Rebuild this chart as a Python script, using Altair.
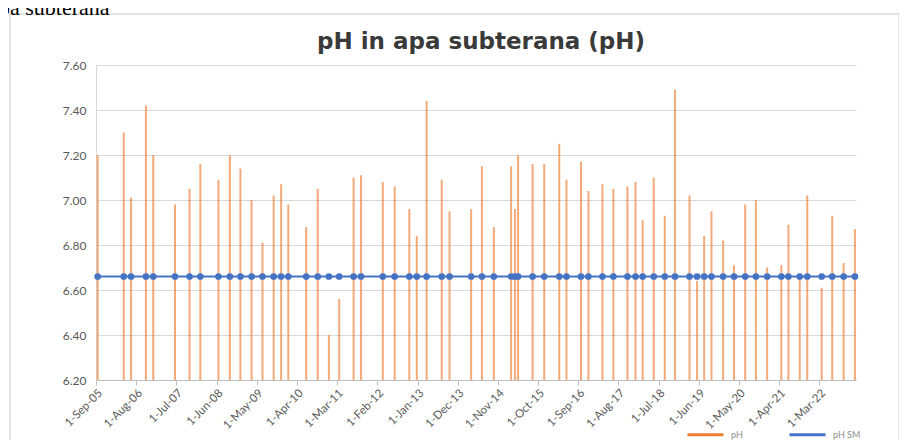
import altair as alt
import pandas as pd

# ---- data ----
dates = [
    "2005-09-15", "2006-04-20", "2006-06-20", "2006-10-22", "2006-12-22",
    "2007-06-21", "2007-10-20", "2008-01-18", "2008-06-17", "2008-09-20",
    "2008-12-17", "2009-03-20", "2009-06-19", "2009-09-20", "2009-11-21",
    "2010-01-20", "2010-06-18", "2010-09-22", "2010-12-24", "2011-03-20",
    "2011-07-18", "2011-09-18", "2012-03-17", "2012-06-24", "2012-10-24",
    "2012-12-25", "2013-03-17", "2013-07-21", "2013-09-24", "2014-03-23",
    "2014-06-21", "2014-09-28", "2015-02-19", "2015-03-23", "2015-04-18",
    "2015-08-17", "2015-11-22", "2016-03-26", "2016-05-25", "2016-09-23",
    "2016-11-24", "2017-03-21", "2017-06-20", "2017-10-15", "2017-12-21",
    "2018-02-19", "2018-05-22", "2018-08-22", "2018-11-15", "2019-03-16",
    "2019-05-18", "2019-07-16", "2019-09-15", "2019-12-21", "2020-03-21",
    "2020-06-22", "2020-09-19", "2020-12-22", "2021-04-19", "2021-06-17",
    "2021-09-19", "2021-11-21", "2022-03-21", "2022-06-17", "2022-09-20",
    "2022-12-23",
]
ph = [
    7.20, 7.30, 7.01, 7.42, 7.20,
    6.98, 7.05, 7.16, 7.09, 7.20,
    7.14, 7.00, 6.81, 7.02, 7.07,
    6.98, 6.88, 7.05, 6.40, 6.56,
    7.10, 7.11, 7.08, 7.06, 6.96,
    6.84, 7.44, 7.09, 6.95, 6.96,
    7.15, 6.88, 7.15, 6.96, 7.20,
    7.16, 7.16, 7.25, 7.09, 7.17,
    7.04, 7.07, 7.05, 7.06, 7.08,
    6.91, 7.10, 6.93, 7.49, 7.02,
    6.64, 6.84, 6.95, 6.82, 6.71,
    6.98, 7.00, 6.70, 6.71, 6.89,
    6.66, 7.02, 6.61, 6.93, 6.72,
    6.87,
]
ph_sm = 6.66  # reference level (pH SM), same at every sampling date

tick_labels = [
    (2005, 9), (2006, 8), (2007, 7), (2008, 6), (2009, 5), (2010, 4),
    (2011, 3), (2012, 2), (2013, 1), (2013, 12), (2014, 11), (2015, 10),
    (2016, 9), (2017, 8), (2018, 7), (2019, 6), (2020, 5), (2021, 4),
    (2022, 3),
]
y_ticks = [6.20, 6.40, 6.60, 6.80, 7.00, 7.20, 7.40, 7.60]
series_names = ["pH", "pH SM"]
series_colors = ["#ED7D31", "#4472C4"]
title_text = "pH in apa subterana (pH)"
heading_fragment = "pa subterana"

# ---- tables ----
bars_df = pd.DataFrame({"date": dates, "pH": ph, "series": series_names[0]})
line_df = pd.DataFrame({"date": dates, "pH": [ph_sm] * len(dates), "series": series_names[1]})
deco_df = pd.DataFrame({"t": [heading_fragment], "title": [title_text]})

FONT = "Lato"

x_enc = alt.X(
    "date:T",
    title=None,
    scale=alt.Scale(
        type="utc",
        domain=[alt.DateTime(year=2005, month=9, date=1, utc=True),
                alt.DateTime(year=2023, month=1, date=1, utc=True)],
    ),
    axis=alt.Axis(
        values=[alt.DateTime(year=y, month=m, date=1, utc=True) for (y, m) in tick_labels],
        format="%-d-%b-%y",
        labelAngle=315,
        labelFont=FONT,
        labelFontSize=11.5,
        labelColor="#595959",
        labelPadding=2,
        domainColor="#BFBFBF",
        tickColor="#BFBFBF",
        tickSize=5,
        grid=False,
        labelOverlap=False,
    ),
)
y_scale = alt.Scale(domain=[6.2, 7.6], zero=False, nice=False)
y_axis = alt.Axis(
    values=y_ticks,
    format=".2f",
    labelFont=FONT,
    labelFontSize=12,
    labelColor="#595959",
    labelPadding=10,
    grid=True,
    gridColor="#D9D9D9",
    domainColor="#D9D9D9",
    ticks=False,
)
color_enc = alt.Color(
    "series:N",
    scale=alt.Scale(domain=series_names, range=series_colors),
    legend=alt.Legend(
        title=None,
        orient="none",
        legendX=590,
        legendY=350,
        direction="horizontal",
        symbolType="stroke",
        symbolSize=1296,
        symbolStrokeWidth=3,
        labelFont=FONT,
        labelFontSize=9,
        labelColor="#8C8C8C",
        columnPadding=40,
        labelOffset=6,
        symbolOpacity=1,
    ),
)

frame = alt.Chart(deco_df).mark_rect(fill=None, stroke="#D9D9D9", strokeWidth=1.5).encode(
    x=alt.value(-86), x2=alt.value(803), y=alt.value(-51), y2=alt.value(400)
)

heading = alt.Chart(deco_df).mark_text(
    font="Liberation Serif", fontSize=22, align="left", baseline="alphabetic", color="#000000"
).encode(text="t:N", x=alt.value(-97), y=alt.value(-50))

title = alt.Chart(deco_df).mark_text(
    font="DejaVu Sans", fontSize=23, fontWeight="bold", align="center", baseline="middle",
    color="#3A3A3A",
).encode(text="title:N", x=alt.value(385), y=alt.value(-23))

bars = alt.Chart(bars_df).mark_rule(strokeWidth=2, opacity=0.65).encode(
    x=x_enc,
    y=alt.Y("pH:Q", scale=y_scale, axis=y_axis, title=None),
    y2=alt.datum(6.2),
    color=color_enc,
)

line = alt.Chart(line_df).mark_line(
    strokeWidth=2,
    point=alt.OverlayMarkDef(shape="circle", size=45, filled=True, color="#4472C4", opacity=1),
).encode(
    x=x_enc,
    y=alt.Y("pH:Q", scale=y_scale, axis=y_axis, title=None),
    color=color_enc,
)

chart = alt.layer(frame, bars, line, heading, title).properties(
    width=760,
    height=315,
    autosize=alt.AutoSizeParams(type="none"),
    padding={"left": 88, "top": 57, "right": 43, "bottom": 60},
).configure_view(stroke=None)

chart.save("out.html", embed_options={"renderer": "svg", "actions": False})
